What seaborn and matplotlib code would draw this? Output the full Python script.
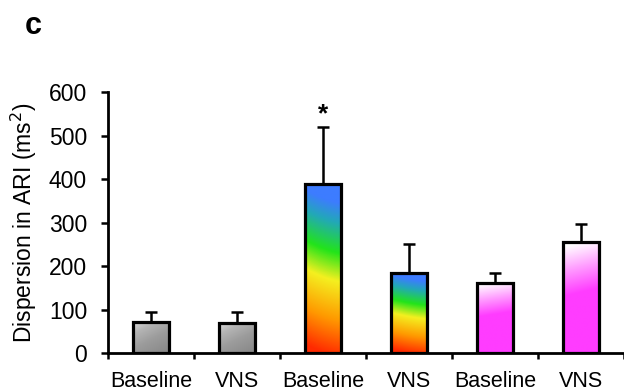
import numpy as np
import pandas as pd
import matplotlib
matplotlib.use("Agg")
import matplotlib.pyplot as plt
from matplotlib.colors import LinearSegmentedColormap
import seaborn as sns

# Data: mean dispersion in ARI (ms^2) with upper error (SEM)
groups = ["g1_base", "g1_vns", "g2_base", "g2_vns", "g3_base", "g3_vns"]
tick_labels = ["Baseline", "VNS", "Baseline", "VNS", "Baseline", "VNS"]
means = [72, 70, 388, 185, 161, 255]
errors = [22, 25, 132, 66, 23, 42]
significant = [False, False, True, False, False, False]

sns.set_style("white")
plt.rcParams["font.family"] = ["Liberation Sans", "DejaVu Sans"]
plt.rcParams.update({"text.color": "black", "axes.labelcolor": "black",
                     "xtick.color": "black", "ytick.color": "black"})

df = pd.DataFrame({"group": groups, "value": means})

fig = plt.figure(figsize=(6.24, 3.92), dpi=100)
ax = fig.add_axes([0.173, 0.0995, 0.827, 0.6655])

sns.barplot(data=df, x="group", y="value", order=groups, ax=ax,
            width=0.42, color="white", edgecolor="black", linewidth=2.3,
            errorbar=None)

gray = LinearSegmentedColormap.from_list(
    "gray", [(0.0, "#8a8a8a"), (0.45, "#9c9c9c"), (0.8, "#b4b4b4"), (1.0, "#cfcfcf")])
rainbow = LinearSegmentedColormap.from_list(
    "rainbow", [(0.0, "#ff2a00"), (0.22, "#ff9a00"), (0.45, "#f4f020"),
                (0.62, "#22e41a"), (0.80, "#22a8b8"), (0.92, "#3d7cff"), (1.0, "#3d7cff")])
pink = LinearSegmentedColormap.from_list(
    "pink", [(0.0, "#ff3cff"), (0.55, "#ff3cff"), (0.78, "#ff9cff"), (1.0, "#ffffff")])
cmaps = [gray, gray, rainbow, rainbow, pink, pink]

patches = list(ax.patches)
for p, cmap in zip(patches, cmaps):
    x0, y0 = p.get_x(), p.get_y()
    w, h = p.get_width(), p.get_height()
    yy, xx = np.mgrid[0:1:200j, 0:1:40j]
    if cmap is gray:
        grad = np.clip(0.75 * yy + 0.45 * (1 - xx) - 0.1, 0, 1)
    elif cmap is rainbow:
        grad = np.clip(yy + 0.08 * (xx - 0.5) - 0.04 * (xx - 0.5) ** 2, 0, 1)
    else:
        grad = np.clip(yy - 0.08 * (xx - 0.5), 0, 1)
    im = ax.imshow(grad, cmap=cmap, vmin=0, vmax=1, origin="lower",
                   extent=(x0, x0 + w, y0, y0 + h), aspect="auto",
                   interpolation="bilinear", zorder=1.5)
    im.set_clip_path(p)
    p.set_facecolor("none")
    p.set_zorder(2)

centers = [p.get_x() + p.get_width() / 2 for p in patches]
ax.errorbar(centers, means, yerr=[np.zeros(len(means)), errors], fmt="none",
            ecolor="black", elinewidth=1.8, capsize=4.5, capthick=1.8, zorder=1.8)

for c, m, e, s in zip(centers, means, errors, significant):
    if s:
        ax.text(c, m + e + 1, "*", ha="center", va="bottom", fontsize=19,
                fontweight="bold")

ax.set_xlim(-0.5, 5.5)
ax.set_ylim(0, 600)
ax.set_yticks(range(0, 601, 100))
ax.set_xticks(range(len(groups)))
ax.set_xticklabels(tick_labels)
ax.set_xticks(np.arange(-0.5, 5.6, 1), minor=True)
ax.tick_params(axis="x", which="major", length=0, pad=13, labelsize=15.5)
ax.tick_params(axis="x", which="minor", length=4, width=1.8, direction="out",
               bottom=True)
ax.tick_params(axis="y", length=5, width=1.8, direction="out", left=True,
               labelsize=16.5, pad=10)
ax.set_xlabel("")
ax.set_ylabel("Dispersion in ARI (ms$^2$)", fontsize=16.5, labelpad=7)

for side in ["top", "right"]:
    ax.spines[side].set_visible(False)
for side in ["left", "bottom"]:
    ax.spines[side].set_linewidth(2)
    ax.spines[side].set_color("black")

fig.text(0.04, 0.934, "c", fontsize=22, fontweight="heavy", va="center")

fig.savefig("out.png", dpi=100)
